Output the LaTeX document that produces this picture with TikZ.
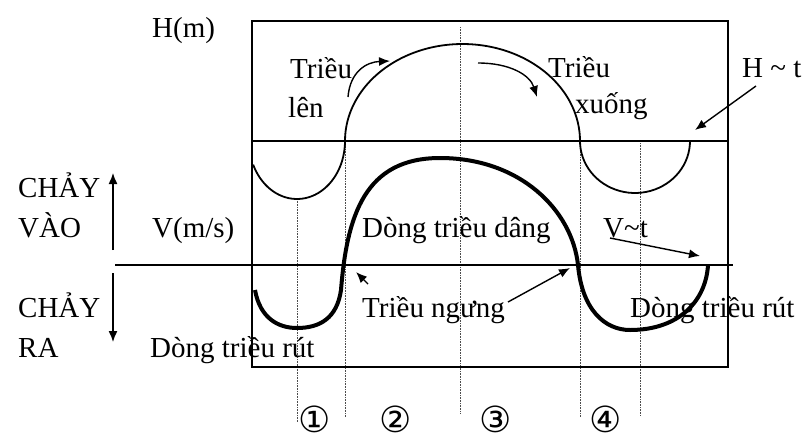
\documentclass[tikz,border=0pt]{standalone}
\usepackage{fontspec}
\setmainfont{Liberation Serif}
\newfontfamily\circfont{DejaVu Sans}
\usetikzlibrary{arrows.meta}
\begin{document}
\begin{tikzpicture}[x=1pt,y=-1pt,
  lbl/.style={anchor=base west, inner sep=0pt, font=\fontsize{29}{34}\selectfont},
  circ/.style={anchor=base, inner sep=0pt, text depth=0pt, font=\circfont\fontsize{36}{40}\selectfont},
  frame/.style={line width=1.6pt},
  hcurve/.style={line width=1.8pt},
  vcurve/.style={line width=4pt},
  guide/.style={densely dotted, line width=0.6pt, black!70},
  arr/.style={-{Latex[length=11pt,width=9pt]}, line width=1.4pt}]
\useasboundingbox (0,0) rectangle (809,437);
% guides
\draw[guide] (297,199) -- (297,422);
\draw[guide] (345,141) -- (345,417);
\draw[guide] (460,27) -- (460,413);
\draw[guide] (580,141) -- (580,417);
\draw[guide] (640,143) -- (640,416);
% frame and zero lines
\draw[frame] (252,21) rectangle (728,367);
\draw[frame] (252,141) -- (728,141);
\draw[frame] (115,265) -- (733,265);
% H curve
\draw[hcurve] plot[domain=0:156, samples=40, smooth] ({297+48*cos(\x)},{141+58*sin(\x)});
\draw[hcurve] plot[domain=180:360, samples=60, smooth] ({462.5+117.5*cos(\x)},{141+97*sin(\x)});
\draw[hcurve] plot[domain=0:180, samples=40, smooth] ({635+55*cos(\x)},{141+52*sin(\x)});
% V curve
\draw[vcurve] (255,290) .. controls (260,318) and (278,328) .. (297,328)
  .. controls (320,328) and (337,318) .. (341,290)
  .. controls (347,215) and (365,158) .. (440,158)
  .. controls (520,158) and (572,210) .. (578,265)
  .. controls (582,310) and (605,330) .. (630,330)
  .. controls (680,330) and (706,300) .. (708,265);
% labels
\node[lbl] (hm) at (152,37) {H(m)};
\node[lbl] (tl) at (290,78) {Triều};
\node[lbl] (len) at (288,117) {lên};
\node[lbl] (tx) at (548,77) {Triều};
\node[lbl] (xuong) at (575,113) {xuống};
\node[lbl] (ht) at (742,77) {H \char`~\ t};
\node[lbl] (c1) at (18,197) {CHẢY};
\node[lbl] (vao) at (18,237) {VÀO};
\node[lbl] (vms) at (152,237) {V(m/s)};
\node[lbl] (dang) at (362,237) {Dòng triều dâng};
\node[lbl] (vt) at (603,237) {V\char`~t};
\node[lbl] (c2) at (18,317) {CHẢY};
\node[lbl] (ra) at (18,357) {RA};
\node[lbl] (rut1) at (150,357) {Dòng triều rút};
\node[lbl] (ngung) at (362,317) {Triều ngưng};
\node[lbl] (rut2) at (630,317) {Dòng triều rút};
\node[circ] (n1) at (315,432) {①};
\node[circ] (n2) at (396,432) {②};
\node[circ] (n3) at (496,432) {③};
\node[circ] (n4) at (606,432) {④};
% arrows
\coordinate (a1s) at (348,97); \coordinate (a1e) at (390,61);
\draw[arr] (a1s) .. controls (350,72) and (366,62) .. (a1e);
\coordinate (a2s) at (478,63); \coordinate (a2e) at (537,97);
\draw[arr] (a2s) .. controls (510,63) and (530,75) .. (a2e);
\coordinate (hts) at (756,86); \coordinate (hte) at (695,130);
\draw[arr] (hts) -- (hte);
\coordinate (vts) at (610,238); \coordinate (vte) at (700,256);
\draw[arr] (vts) -- (vte);
\coordinate (ngs) at (508,302); \coordinate (nge) at (570,268);
\draw[arr] (ngs) -- (nge);
\coordinate (sms) at (368,284); \coordinate (sme) at (356,272);
\draw[arr] (sms) -- (sme);
\coordinate (ups) at (113,250); \coordinate (upe) at (113,173);
\draw[arr] (ups) -- (upe);
\coordinate (dns) at (113,273); \coordinate (dne) at (113,342);
\draw[arr] (dns) -- (dne);
\end{tikzpicture}
\end{document}
